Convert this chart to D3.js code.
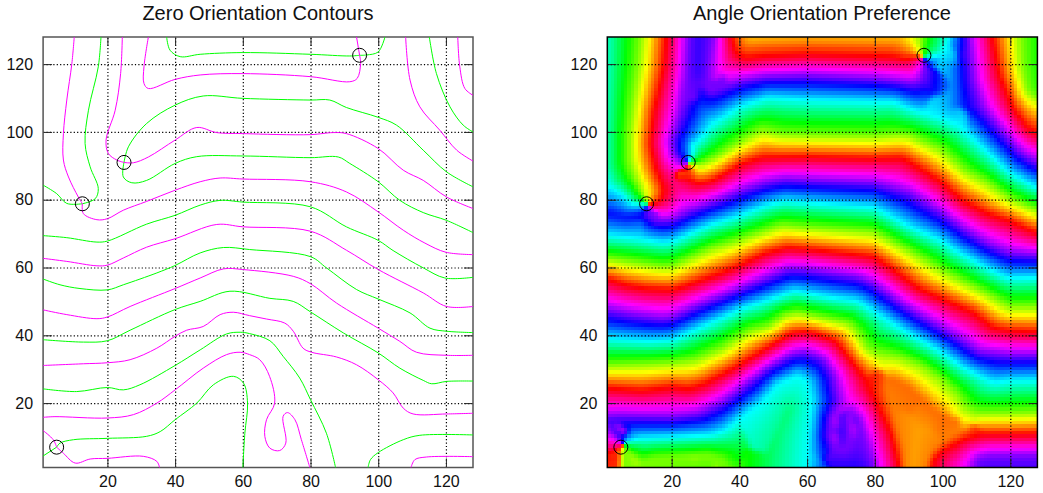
<!DOCTYPE html>
<html>
<head>
<meta charset="utf-8">
<script src="https://cdn.jsdelivr.net/npm/d3@7"></script>
<style>
body { margin: 0; background: #fff; }
text { font-family: "Liberation Sans", Arial, sans-serif; fill: #111; }
</style>
</head>
<body>
<svg id="chart" width="1043" height="493"></svg>
<script>
const tickValues = [20, 40, 60, 80, 100, 120];
const titles = ['Zero Orientation Contours', 'Angle Orientation Preference'];

// pinwheels, [x, y]
const singularities = [[5, 7], [12.6, 78.8], [24.9, 91], [94.5, 122.6]];

// contours, split at the pinwheels because the hue flips there
const m1Upper = [[10.2,128],[9.5,120.2],[8,109.4],[7,99.5],[7,91.7],[8.5,86.7],[11.4,80.8],[12.6,78.8]];
const m1Lower = [[12.6,78.8],[12.9,75.9],[16.9,74.1],[20,74.4],[24.7,76.9],[31.6,79.5],[40,82.8],[47.4,85.3],[53.3,86.4],[60,86.1],[80,85.3],[90.6,82.3],[100,76.4],[107.4,71],[113.8,67.2],[120,64.5],[128,63.8]];
const m2Upper = [[24.4,128],[23.9,117.2],[22.3,106.4],[19.6,97.6],[20.3,93.6],[22.8,91.7],[24.9,91]];
const m2Lower = [[24.9,91],[27.7,90.9],[32.1,92.6],[40,97.6],[46.4,101.3],[52.3,99.8],[60,99.5],[80,99.2],[86.7,99.8],[90.6,99.5],[100,95.1],[107.4,88.7],[113.3,85.7],[120.2,80.8],[128,77.4]];
const mTop = [[32.1,128],[30.8,119.2],[30.8,114.3],[32.1,112.8],[40,115.5],[47.4,116.8],[60,117.2],[80,116.3],[91.6,114.8],[93.8,115.8],[94.8,120.2],[94.5,122.6]];
const mTopEnd = [[94.5,122.6],[93.6,128]];
const mRight1 = [[108.1,128],[109.4,115.3],[112.3,107.4],[118.2,100.5],[123.2,94.6],[128,91.4]];
const mRight2 = [[123.5,128],[124.1,119.2],[125.6,112.8],[128,110.8]];
const m60 = [[1,62.7],[8,61.8],[16.9,60.5],[20,60.7],[24.7,62.8],[31.6,66],[40,68.5],[52.3,72.7],[60,72],[80,70.7],[90.6,65.1],[100,59.4],[113.3,52.5],[120.2,48.5],[128,48.5]];
const m45 = [[1,47.5],[8,46.1],[16.9,44.9],[20,45.4],[26.7,48.5],[40,53.8],[47.4,56.9],[54.3,59.6],[60,59.4],[74.9,57.4],[80,55.2],[87.7,49.5],[100,42.1],[106.4,38.2],[111.3,35],[120.2,34.1],[128,34.1]];
const m31 = [[1,31.1],[12.9,31.6],[20,31.9],[26.7,32.8],[34.6,36.2],[40,39.7],[43.4,41.5],[48.3,42.6],[53.3,46.1],[57.2,46.8],[62,45.8],[67,44.8],[72.4,43.6],[74.9,41.2],[77.8,36.2],[80.3,35],[87.7,33.6],[93.6,31.3],[100,26.9],[104.4,23],[107.4,18.5],[110.3,16.8],[120.2,16.8],[128,17]];
const m15 = [[1,15.8],[4.5,16],[20,15.6],[27.7,16.6],[34.6,20],[40,23.9],[48.3,30.3],[55.2,34.3],[59.2,35],[62,34.3],[65,32.8],[67.9,27.9],[69.4,20],[67,15.1],[66.5,10.2],[68,6.7],[70.9,6],[72.7,8.2],[71.9,16.1],[73.2,17.2],[75.4,15.1],[77.3,9.2],[79.8,1]];
const m3Upper = [[1,11.9],[4,9.2],[5,7]];
const m3Lower = [[5,7],[7,5.2],[10.5,2.3],[14.9,3.5],[20,3.7],[30.6,4.3],[34.6,2.8],[35.4,1]];
const mCorner = [[109.7,1],[110.8,3.3],[114.3,4.1],[128,4.2]];

const g1Upper = [[18.1,128],[17.3,119.2],[14.4,106.4],[13.4,96.6],[14.9,89.7],[17.3,83.3],[16.4,80.3],[12.6,78.8]];
const g1Lower = [[12.6,78.8],[8,78.9],[5,81.8],[1,84.3]];
const g2Upper = [[24.9,91],[26.2,95.6],[31.6,102.5],[40,107.9],[48.3,110.6],[60,109.9],[80,109.4],[85.7,109.4],[90.6,107.2],[100,104.3],[105.4,102],[113.3,94.6],[120.2,88.2],[128,83.8]];
const g2Lower = [[24.9,91],[24.7,86.7],[27.2,85],[31.6,85.7],[40,90.7],[46.4,92.7],[60,92.9],[80,92.4],[88.2,92.6],[91.6,90.7],[100,85.3],[106.4,79.8],[113.3,76.2],[120.2,73.9],[128,70.3]];
const gTop = [[37.5,128],[38.5,124.1],[41.5,122.2],[47.4,122.9],[60,123.4],[80,122.9],[91.6,122.4],[94.5,122.6]];
const gTopEnd = [[94.5,122.6],[96.6,122.7],[100,123.6],[102,128]];
const gRight = [[115.1,128],[117.2,117.2],[121.2,107.4],[125.1,102],[128,100]];
const g68 = [[1,69.4],[8,68.8],[16.9,67.5],[20,67.8],[31.6,72.8],[40,75.4],[47.4,78.4],[53.3,79.8],[60,79.3],[80,77.9],[90.6,72],[100,68],[104.4,65],[113.3,59.9],[119.7,56.9],[128,57.1]];
const g53 = [[1,56.6],[6,54.9],[11.9,53.8],[20,53.4],[24.7,54.9],[34.6,58.4],[40,60.6],[47.4,64.3],[54.3,65.9],[62,65.3],[80,63.2],[84.7,59.9],[93.6,53.5],[100,50.7],[109.4,46.6],[115.3,42.1],[120.2,41.2],[128,40.8]];
const g38 = [[1,38.7],[12.9,38],[20,38.4],[26.7,41.5],[40,47.6],[47.4,50],[56.2,53],[68,50.9],[74.9,50],[80,46.9],[89.7,40.7],[100,34.8],[106.4,30.3],[113.3,26.7],[115.8,25.7],[120.2,26.4],[128,26.5]];
const g24 = [[1,24.2],[10.9,23.4],[20,24.6],[24.7,23.9],[29.6,25.4],[40,31.1],[47.4,35.7],[55.2,40.4],[59.2,40.9],[62,40.5],[68,38.4],[71.9,33.8],[76.8,27.4],[80,21],[84.7,11.1],[87.4,1]];
const g9Left = [[1,4.4],[5,7]];
const g9Right = [[5,7],[6,8.2],[10,9.2],[20,9.6],[31.6,10.2],[35.6,11.6],[40,15.1],[46.4,20],[51.3,25.4],[57.2,27.9],[60.2,25.9],[61.4,20],[60.6,11.1],[60,1]];
const gCorner = [[97,1],[97.7,3.3],[100,5.4],[107.4,9.2],[112.3,10.5],[128,10.6]];

const magentaLines = [m1Upper, m1Lower, m2Upper, m2Lower, mTop, mTopEnd, mRight1, mRight2, m60, m45, m31, m15, m3Upper, m3Lower, mCorner];
const greenLines = [g1Upper, g1Lower, g2Upper, g2Lower, gTop, gTopEnd, gRight, g68, g53, g38, g24, g9Left, g9Right, gCorner];

// hue of each contour
const hue0 = [g1Upper, g2Lower, gTop, gRight, g53, g24, g9Left, gCorner];
const hue90 = [m1Upper, m2Lower, mTopEnd, mRight2, m60, m31, m3Lower];
const hue180 = [g1Lower, g2Upper, gTopEnd, g68, g38, g9Right];
const hue270 = [m1Lower, m2Upper, mTop, mRight1, m45, m15, m3Upper, mCorner];

// extra hue lines for the right plot only: flat patches and edges no contour passes through
const extraHues = [
	{hue: 180, line: [[-1,130],[-1,90],[1,84.3]]},
	{hue: 90, line: [[33,134],[60,134],[92,134]]},
	{hue: 250, line: [[27.5,130],[27.5,118]]},
	{hue: 25, line: [[85.5,27],[90.4,24.5],[97.3,18],[101,15.5]]},
	{hue: 38, line: [[91.5,-2],[92,6],[93,12]]},
	{hue: 30, line: [[89,-2],[88.5,6],[86,15],[84,22]]},
	{hue: 30, line: [[95,-2],[96,3],[98,6.5],[103,10],[107,12]]},
	{hue: 240, line: [[66,-1],[78,-1]]},
	{hue: 150, line: [[50,-2],[52,10],[55,18]]},
	{hue: 240, line: [[112,-3],[130,-3]]},
	{hue: 130, line: [[131,130],[131,112]]},
	{hue: 240, line: [[-1,76.5],[6,75],[11,76],[12.6,78.8]]},
	{hue: 205, line: [[103,120],[103,108]]}
];

const hueLines = [
	...hue0.map(function(l){return {hue: 0, line: l}}),
	...hue90.map(function(l){return {hue: 90, line: l}}),
	...hue180.map(function(l){return {hue: 180, line: l}}),
	...hue270.map(function(l){return {hue: 270, line: l}}),
	...extraHues
];

const svg = d3.select('#chart');
const domain = [1, 128];
const top_ = 37, bottom_ = 467.5;
const plots = [
	{left: 43.1, right: 473, frame: '#555', cx: 258},
	{left: 607.3, right: 1037.4, frame: '#000', cx: 822}
];

function drawAxes(g, x, y, p){
	// dotted grid first, then ticks on all four sides
	g.append('g').attr('transform', 'translate(0,' + bottom_ + ')')
		.call(d3.axisBottom(x).tickValues(tickValues).tickSize(top_ - bottom_).tickFormat(''))
		.call(s => s.select('.domain').remove())
		.selectAll('line').attr('stroke', '#000').attr('stroke-width', 1.2).attr('stroke-dasharray', '1.2,2.2');
	g.append('g').attr('transform', 'translate(' + p.left + ',0)')
		.call(d3.axisLeft(y).tickValues(tickValues).tickSize(p.left - p.right).tickFormat(''))
		.call(s => s.select('.domain').remove())
		.selectAll('line').attr('stroke', '#000').attr('stroke-width', 1.2).attr('stroke-dasharray', '1.2,2.2');

	const tick = 9;
	const bottomAxis = g.append('g').attr('transform', 'translate(0,' + bottom_ + ')')
		.call(d3.axisBottom(x).tickValues(tickValues).tickSize(-tick).tickPadding(8));
	const leftAxis = g.append('g').attr('transform', 'translate(' + p.left + ',0)')
		.call(d3.axisLeft(y).tickValues(tickValues).tickSize(-tick).tickPadding(10));
	const topAxis = g.append('g').attr('transform', 'translate(0,' + top_ + ')')
		.call(d3.axisTop(x).tickValues(tickValues).tickSize(-tick).tickFormat(''));
	const rightAxis = g.append('g').attr('transform', 'translate(' + p.right + ',0)')
		.call(d3.axisRight(y).tickValues(tickValues).tickSize(-tick).tickFormat(''));
	[bottomAxis, leftAxis, topAxis, rightAxis].forEach(function(a){
		a.select('.domain').remove();
		a.selectAll('line').attr('stroke', '#222');
		a.selectAll('text').style('font-size', '16px').attr('fill', '#111');
	});

	g.append('rect')
		.attr('x', p.left).attr('y', top_)
		.attr('width', p.right - p.left).attr('height', bottom_ - top_)
		.attr('fill', 'none').attr('stroke', p.frame).attr('stroke-width', 1.5);
}

function drawCircles(g, x, y){
	g.selectAll('circle.pin').data(singularities).enter().append('circle')
		.attr('class', 'pin')
		.attr('cx', d => x(d[0])).attr('cy', d => y(d[1])).attr('r', 7)
		.attr('fill', 'none').attr('stroke', '#000').attr('stroke-width', 1);
}

// nearest point of a polyline to (px,py)
function nearest(line, px, py){
	let best = {d: Infinity, ux: 0, uy: 0};
	for (let i = 0; i < line.length - 1; i++){
		const ax = line[i][0], ay = line[i][1];
		const bx = line[i + 1][0], by = line[i + 1][1];
		const dx = bx - ax, dy = by - ay;
		let t = ((px - ax) * dx + (py - ay) * dy) / (dx * dx + dy * dy);
		t = Math.max(0, Math.min(1, t));
		const vx = ax + t * dx - px, vy = ay + t * dy - py;
		const d = Math.sqrt(vx * vx + vy * vy);
		if (d < best.d) best = {d: d, ux: vx / (d || 1), uy: vy / (d || 1)};
	}
	return best;
}

// Cell hue is not read cell by cell: it is worked out from the contours read above,
// going linearly between the nearest hue line and the nearest one on its other side.
function hueAt(px, py){
	const found = hueLines.map(function(l){
		const n = nearest(l.line, px, py);
		return {hue: l.hue, d: n.d, ux: n.ux, uy: n.uy};
	});
	const first = found.reduce((a, b) => b.d < a.d ? b : a);
	let second = null;
	found.forEach(function(f){
		if (f.hue === first.hue) return;
		if (f.ux * first.ux + f.uy * first.uy > 0.25) return;
		if (!second || f.d < second.d) second = f;
	});
	if (!second || first.d + second.d === 0) return first.hue;
	const diff = ((second.hue - first.hue + 540) % 360) - 180;
	return first.hue + diff * first.d / (first.d + second.d);
}

// small 3x3 smoothing so the seams between nearest lines do not show
function smooth(values, n){
	const out = new Float64Array(n * n);
	const kernel = [1, 2, 1];
	d3.range(n).forEach(function(j){
		d3.range(n).forEach(function(i){
			let sum = 0, w = 0;
			[-1, 0, 1].forEach(function(b){
				[-1, 0, 1].forEach(function(a){
					const ii = i + a, jj = j + b;
					if (ii < 0 || jj < 0 || ii >= n || jj >= n) return;
					const k = kernel[a + 1] * kernel[b + 1];
					sum += values[jj * n + ii] * k;
					w += k;
				});
			});
			out[j * n + i] = sum / w;
		});
	});
	return out;
}

function buildCells(){
	const n = 128;
	let cosValues = new Float64Array(n * n), sinValues = new Float64Array(n * n);
	d3.range(n).forEach(function(j){
		d3.range(n).forEach(function(i){
			const a = hueAt(i + 1, j + 1) * Math.PI / 180;
			cosValues[j * n + i] = Math.cos(a);
			sinValues[j * n + i] = Math.sin(a);
		});
	});
	cosValues = smooth(cosValues, n);
	sinValues = smooth(sinValues, n);
	const cells = [];
	d3.range(n).forEach(function(j){
		d3.range(n).forEach(function(i){
			const deg = Math.atan2(sinValues[j * n + i], cosValues[j * n + i]) * 180 / Math.PI;
			cells.push({x: i + 1, y: j + 1, hue: (deg + 360) % 360});
		});
	});
	return cells;
}

// left plot
const p0 = plots[0];
const x0 = d3.scaleLinear().domain(domain).range([p0.left, p0.right]);
const y0 = d3.scaleLinear().domain(domain).range([bottom_, top_]);
const left = svg.append('g');
drawAxes(left, x0, y0, p0);
const contour = d3.line().x(d => x0(d[0])).y(d => y0(d[1])).curve(d3.curveCatmullRom.alpha(0.5));
left.selectAll('path.green').data(greenLines).enter().append('path')
	.attr('class', 'green').attr('d', contour)
	.attr('fill', 'none').attr('stroke', '#00ff00').attr('stroke-width', 1);
left.selectAll('path.magenta').data(magentaLines).enter().append('path')
	.attr('class', 'magenta').attr('d', contour)
	.attr('fill', 'none').attr('stroke', '#ff00ff').attr('stroke-width', 1);
drawCircles(left, x0, y0);

// right plot
const p1 = plots[1];
const x1 = d3.scaleLinear().domain(domain).range([p1.left, p1.right]);
const y1 = d3.scaleLinear().domain(domain).range([bottom_, top_]);
const cellX = d3.scaleBand().domain(d3.range(1, 129)).range([p1.left, p1.right]);
const cellY = d3.scaleBand().domain(d3.range(1, 129)).range([bottom_, top_]);
const right = svg.append('g');
right.selectAll('rect.cell').data(buildCells()).enter().append('rect')
	.attr('class', 'cell')
	.attr('x', d => cellX(d.x)).attr('y', d => cellY(d.y))
	.attr('width', cellX.bandwidth() + 0.4).attr('height', cellY.bandwidth() + 0.4)
	.attr('shape-rendering', 'crispEdges')
	.attr('fill', d => d3.hsl(d.hue, 1, 0.5));
drawAxes(right, x1, y1, p1);
drawCircles(right, x1, y1);

// titles
left.selectAll('text.title').data([titles[0]]).enter().append('text')
	.attr('class', 'title').attr('x', p0.cx).attr('y', 20)
	.attr('text-anchor', 'middle').style('font-size', '20px').text(d => d);
right.selectAll('text.title').data([titles[1]]).enter().append('text')
	.attr('class', 'title').attr('x', p1.cx).attr('y', 20)
	.attr('text-anchor', 'middle').style('font-size', '20px').text(d => d);
</script>
</body>
</html>
